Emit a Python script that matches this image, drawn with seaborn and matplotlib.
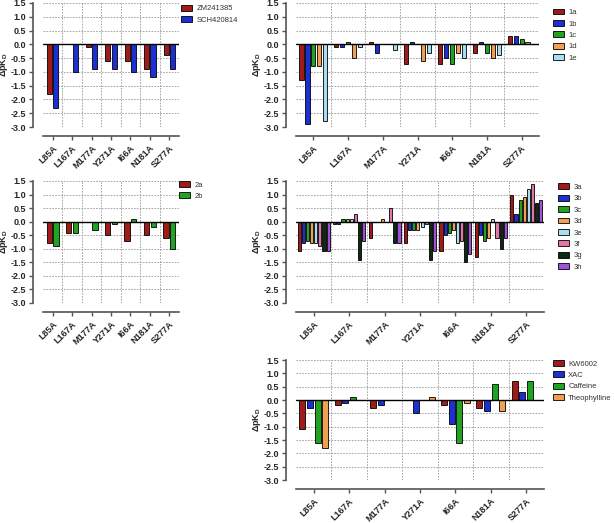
import pandas as pd
import matplotlib
matplotlib.use('Agg')
import matplotlib.pyplot as plt
import seaborn as sns

mutants = ['L85A', 'L167A', 'M177A', 'Y271A', 'I66A', 'N181A', 'S277A']

# panel A
zm241385 = [-1.8, 0.0, -0.1, -0.6, -0.6, -0.9, -0.4]
sch420814 = [-2.3, -1.0, -0.9, -0.9, -1.0, -1.2, -0.9]

# panel B
c1a = [-1.3, -0.1, 0.1, -0.7, -0.7, -0.3, 0.3]
c1b = [-2.9, -0.1, -0.3, 0.1, -0.5, 0.1, 0.3]
c1c = [-0.8, 0.1, 0.0, 0.0, -0.7, -0.3, 0.2]
c1d = [-0.8, -0.5, 0.0, -0.6, -0.3, -0.5, 0.1]
c1e = [-2.8, -0.1, -0.2, -0.3, -0.5, -0.4, 0.0]

# panel C
c2a = [-0.8, -0.4, 0.0, -0.5, -0.7, -0.5, -0.6]
c2b = [-0.9, -0.4, -0.3, -0.1, 0.1, -0.2, -1.0]

# panel D
c3a = [-1.1, -0.1, -0.6, -0.8, -1.1, -1.3, 1.0]
c3b = [-0.8, -0.1, 0.0, -0.3, -0.5, -0.5, 0.3]
c3c = [-0.7, 0.1, 0.0, -0.3, -0.4, -0.7, 0.8]
c3d = [-0.8, 0.1, 0.1, -0.3, -0.3, -0.6, 0.9]
c3e = [-0.8, 0.1, 0.0, -0.2, -0.8, 0.1, 1.2]
c3f = [-0.9, 0.3, 0.5, -0.1, -0.7, -0.6, 1.4]
c3g = [-1.1, -1.4, -0.8, -1.4, -1.5, -1.0, 0.7]
c3h = [-1.1, -0.7, -0.8, -1.1, -1.2, -0.6, 0.8]

# panel E
kw6002 = [-1.1, -0.2, -0.3, 0.0, -0.2, -0.3, 0.7]
xac = [-0.3, -0.1, -0.2, -0.5, -0.9, -0.4, 0.3]
caffeine = [-1.6, 0.1, 0.0, 0.0, -1.6, 0.6, 0.7]
theophylline = [-1.8, 0.0, 0.0, 0.1, -0.1, -0.4, 0.0]

yticks = [-3.0, -2.5, -2.0, -1.5, -1.0, -0.5, 0.0, 0.5, 1.0, 1.5]

RED = '#a11a1a'
BLUE = '#1c2fd4'
GREEN = '#20a320'
ORANGE = '#f0a050'
LBLUE = '#a8def2'
PINK = '#e077a8'
DGREEN = '#0f2a10'
PURPLE = '#a052dc'

sns.set_style('white')
plt.rcParams['font.family'] = ['Liberation Sans', 'DejaVu Sans']
plt.rcParams['mathtext.fontset'] = 'custom'
plt.rcParams['mathtext.rm'] = 'Liberation Sans'
plt.rcParams['mathtext.bf'] = 'Liberation Sans:bold'
plt.rcParams['mathtext.it'] = 'Liberation Sans:italic'

fig = plt.figure(figsize=(6.14, 5.23), dpi=100)
W, H = 614.0, 523.0


def panel(x0, x1, ytop, ybot, series, names, colors, width, gap, leg_x, leg_y, lab_px):
    ax = fig.add_axes([x0 / W, 1 - ybot / H, (x1 - x0) / W, (ybot - ytop) / H])
    df = pd.DataFrame({
        'mutant': mutants * len(series),
        'value': [v for s in series for v in s],
        'compound': [n for n in names for _ in mutants],
    })
    sns.barplot(data=df, x='mutant', y='value', hue='compound',
                palette=dict(zip(names, colors)), width=width, gap=gap,
                saturation=1, edgecolor='black', linewidth=0.6, ax=ax)
    ax.axhline(0, color='black', lw=1.0, zorder=3)
    ax.set_ylim(-3.0, 1.5)
    ax.set_yticks(yticks, [f'{v:.1f}' for v in yticks])
    ax.set_xticks(range(len(mutants)), mutants)
    ax.set_xticks([i + 0.5 for i in range(len(mutants) - 1)], minor=True)
    ax.set_axisbelow(True)
    ax.yaxis.grid(True, ls=(0, (2, 1.5)), color='#999999', lw=0.6)
    ax.xaxis.grid(True, which='minor', ls=(0, (2, 1.5)), color='#999999', lw=0.6)
    ax.xaxis.grid(False, which='major')
    ax.tick_params(axis='x', which='minor', length=0)
    ax.tick_params(axis='both', which='major', length=3, width=1,
                   color='#555555', direction='out', pad=2, labelsize=6.5,
                   left=True, bottom=True)
    for s in ['top', 'right']:
        ax.spines[s].set_visible(False)
    ax.spines['left'].set_position(('outward', 7.2))
    ax.spines['bottom'].set_position(('outward', 6.8))
    for s in ['left', 'bottom']:
        ax.spines[s].set_color('#555555')
        ax.spines[s].set_linewidth(1.2)
    ax.set_xlabel('')
    ax.set_ylabel(r'$\mathbf{\Delta pK_D}$', fontsize=6.5)
    ax.yaxis.set_label_coords((lab_px - x0) / (x1 - x0), 0.5)
    sns.move_legend(ax, 'upper left', bbox_to_anchor=(leg_x, leg_y),
                    frameon=False, title=None, fontsize=5.5,
                    handlelength=1.4, handleheight=0.8, handletextpad=0.6,
                    labelspacing=0.5, borderaxespad=0, borderpad=0,
                    labelcolor='#333333')
    return ax


axes = []
axes.append(panel(43, 179, 3, 127, [zm241385, sch420814], ['ZM241385', 'SCH420814'],
                  [RED, BLUE], 0.65, 0.2, 1.015, 0.985, 10.5))
axes.append(panel(296, 539, 3, 127, [c1a, c1b, c1c, c1d, c1e], ['1a', '1b', '1c', '1d', '1e'],
                  [RED, BLUE, GREEN, ORANGE, LBLUE], 0.85, 0.3, 1.058, 0.955, 263))
axes.append(panel(43, 179, 181, 303, [c2a, c2b], ['2a', '2b'],
                  [RED, GREEN], 0.68, 0.2, 1.0, 1.0, 10.5))
axes.append(panel(296, 544, 181, 303, [c3a, c3b, c3c, c3d, c3e, c3f, c3g, c3h],
                  ['3a', '3b', '3c', '3d', '3e', '3f', '3g', '3h'],
                  [RED, BLUE, GREEN, ORANGE, LBLUE, PINK, DGREEN, PURPLE], 0.93, 0.25, 1.056, 0.98, 263))
axes.append(panel(296, 544, 360, 480, [kw6002, xac, caffeine, theophylline],
                  ['KW6002', 'XAC', 'Caffeine', 'Theophylline'],
                  [RED, BLUE, GREEN, ORANGE], 0.87, 0.22, 1.036, 1.0, 263))

fig.canvas.draw()
for ax in axes:
    for lab in ax.get_yticklabels():
        lab.set_fontweight('bold')
        lab.set_fontsize(6.5)
    for lab in ax.get_xticklabels():
        lab.set(fontweight='bold', fontsize=6.5, rotation=45, ha='right',
                rotation_mode='anchor')

fig.savefig('out.png', dpi=100)
